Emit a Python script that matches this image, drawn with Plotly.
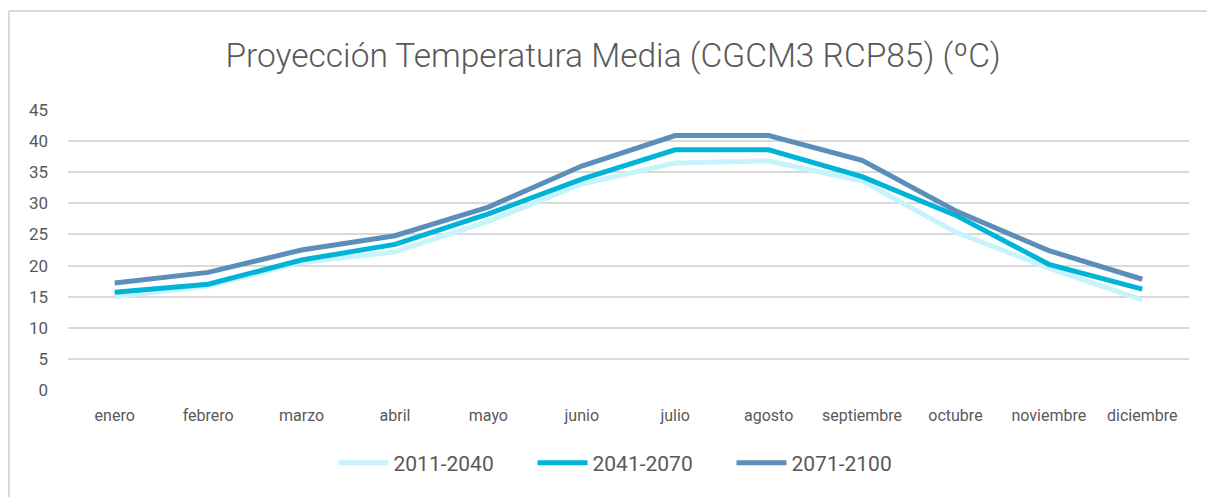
import plotly.graph_objects as go

meses = ["enero", "febrero", "marzo", "abril", "mayo", "junio",
         "julio", "agosto", "septiembre", "octubre", "noviembre", "diciembre"]

t_2011_2040 = [15.0, 16.7, 20.5, 22.2, 27.1, 33.1, 36.5, 36.8, 33.6, 25.4, 19.6, 14.5]
t_2041_2070 = [15.7, 17.0, 20.9, 23.4, 28.3, 33.9, 38.6, 38.6, 34.3, 28.1, 20.2, 16.2]
t_2071_2100 = [17.2, 18.9, 22.5, 24.8, 29.4, 36.0, 40.9, 40.9, 36.9, 28.8, 22.4, 17.8]

series = [
    ("2011-2040", t_2011_2040, "#C6F3FC"),
    ("2041-2070", t_2041_2070, "#00B4D8"),
    ("2071-2100", t_2071_2100, "#5B8FB9"),
]

y_ticks = [0, 5, 10, 15, 20, 25, 30, 35, 40, 45]

FONT = "Roboto"
GRAY = "#595959"

fig = go.Figure()
for name, vals, color in series:
    fig.add_trace(go.Scatter(
        x=meses, y=vals, name=name, mode="lines",
        line=dict(color=color, width=5),
    ))

# plot area in pixels: x 68..1189, y 110..390
L, R, T, B = 68, 1189, 110, 390
W, H = 1207, 497


def px(x):
    return (x - L) / (R - L)


def py(y):
    return (B - y) / (B - T)


fig.update_layout(
    width=W, height=H,
    margin=dict(l=L, r=W - R, t=T, b=H - B),
    paper_bgcolor="white", plot_bgcolor="white",
    font=dict(family=FONT, color=GRAY),
    title=dict(
        text="Proyección Temperatura Media (CGCM3 RCP85) (ºC)",
        x=px(613), xref="paper", xanchor="center", y=1 - 55 / H, yanchor="middle",
        font=dict(size=33.5, color=GRAY, family=FONT, weight=300),
    ),
    xaxis=dict(
        range=[-0.5, 11.5], showgrid=False, zeroline=False, showline=False,
        ticks="", tickfont=dict(size=16, color=GRAY), ticklabelstandoff=14,
        fixedrange=True,
    ),
    yaxis=dict(
        range=[0, 45], tickvals=y_ticks, showgrid=True, gridcolor="#D9D9D9",
        gridwidth=1.5, zeroline=False, showline=False, ticks="",
        tickfont=dict(size=17, color=GRAY), ticklabelstandoff=19, fixedrange=True,
    ),
    legend=dict(
        orientation="h", x=px(632), xanchor="center", y=py(463), yanchor="middle",
        font=dict(size=21, color=GRAY, family=FONT), itemwidth=50,
        entrywidth=134, entrywidthmode="pixels",
        traceorder="normal",
    ),
    showlegend=True,
)

# chart frame: left and top edges
fig.add_shape(type="line", xref="paper", yref="paper",
              x0=px(9), x1=px(9), y0=py(11), y1=py(H + 5),
              line=dict(color="#D9D9D9", width=2))
fig.add_shape(type="line", xref="paper", yref="paper",
              x0=px(9), x1=px(W + 5), y0=py(11), y1=py(11),
              line=dict(color="#D9D9D9", width=2))

fig.write_html("out.html")
